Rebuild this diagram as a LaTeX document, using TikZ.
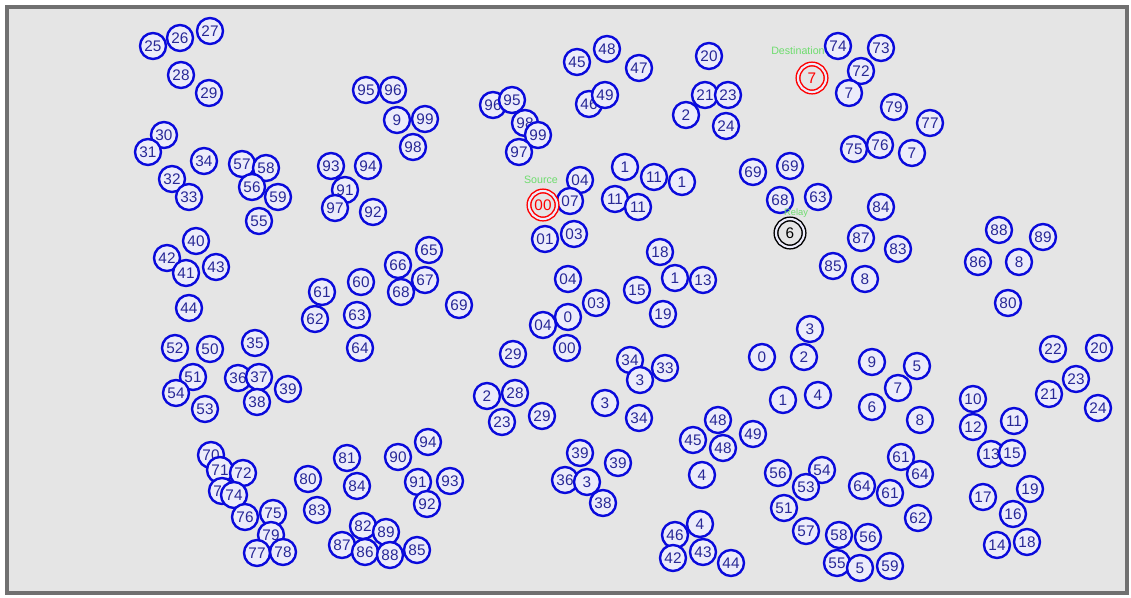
\documentclass[tikz,border=0pt]{standalone}
\usepackage{fontspec}
\setmainfont{Liberation Sans}
\definecolor{bg}{RGB}{229,229,229}
\definecolor{frame}{RGB}{112,112,112}
\definecolor{ndblue}{RGB}{10,10,220}
\definecolor{ndtext}{RGB}{40,40,150}
\definecolor{ndfill}{RGB}{236,236,250}
\definecolor{grn}{RGB}{110,220,110}
\begin{document}
\begin{tikzpicture}[x=0.75pt,y=-0.75pt,
  nd/.style={circle,draw=ndblue,line width=1.8pt,fill=ndfill,minimum size=19.5pt,inner sep=0pt,text=ndtext,font=\fontsize{11.5}{11.5}\selectfont},
  special/.style={circle,line width=1.1pt,double distance=1.6pt,minimum size=21pt,inner sep=0pt,font=\fontsize{11.5}{11.5}\selectfont},
  grnlabel/.style={text=grn,font=\fontsize{8}{8}\selectfont,inner sep=0pt}]
\useasboundingbox (0,0) rectangle (1131,597);
\fill[white] (0,0) rectangle (1131,597);
\fill[bg] (7,7) rectangle (1127,593);
\draw[frame,line width=3.5pt] (7,7) rectangle (1127,593);
\foreach \x/\y/\l [count=\i] in {
153/46/25, 180/38/26, 210/31/27, 181/75/28, 209/93/29,
164/135/30, 148/152/31, 204/161/34, 172/179/32, 189/197/33,
242/164/57, 266/168/58, 252/187/56, 278/197/59, 259/221/55,
196/241/40, 167/258/42, 186/273/41, 216/267/43, 189/308/44,
175/348/52, 210/349/50, 255/343/35, 193/377/51, 176/393/54, 205/409/53,
238/378/36, 259/377/37, 257/402/38, 288/389/39,
211/455/70, 220/470/71, 243/473/72, 222/491/73, 234/495/74, 245/517/76, 273/513/75, 271/535/79, 257/553/77, 283/552/78,
308/479/80, 347/458/81, 357/486/84, 317/510/83, 398/457/90, 428/442/94, 418/482/91, 450/481/93, 427/504/92,
363/526/82, 386/532/89, 342/545/87, 365/552/86, 390/555/88, 417/550/85,
366/90/95, 393/90/96, 397/120/9, 425/119/99, 413/147/98,
331/166/93, 368/166/94, 345/190/91, 335/208/97, 373/212/92,
429/250/65, 398/265/66, 425/280/67, 401/292/68, 361/282/60, 322/292/61, 315/319/62, 357/315/63, 360/348/64, 459/305/69,
493/105/96, 512/100/95, 525/123/98, 538/135/99, 519/152/97,
577/62/45, 607/49/48, 639/68/47, 589/104/46, 605/95/49,
580/180/04, 570/201/07, 545/239/01, 574/234/03, 568/279/04, 596/303/03, 568/317/0, 543/325/04, 567/348/00,
625/167/1, 654/177/11, 682/182/1, 615/199/11, 638/207/11,
660/252/18, 675/278/1, 703/280/13, 637/290/15, 663/314/19,
513/354/29, 487/396/2, 515/393/28, 502/422/23, 542/416/29,
630/360/34, 665/368/33, 640/380/3, 605/403/3, 639/418/34,
580/453/39, 565/480/36, 587/482/3, 618/463/39, 603/503/38,
709/56/20, 705/95/21, 728/95/23, 686/115/2, 726/126/24,
753/172/69, 790/166/69, 780/200/68, 818/197/63,
838/46/74, 881/48/73, 861/71/72, 849/93/7, 894/107/79, 930/123/77, 854/149/75, 880/145/76, 912/153/7,
881/207/84, 861/238/87, 898/249/83, 833/266/85, 865/279/8,
999/230/88, 1043/237/89, 978/262/86, 1019/262/8, 1008/303/80,
810/329/3, 804/357/2, 762/357/0, 783/400/1, 818/395/4,
872/362/9, 917/366/5, 898/388/7, 872/407/6, 920/420/8,
1053/349/22, 1099/348/20, 1076/379/23, 1049/394/21, 1098/408/24,
973/399/10, 1014/421/11, 973/427/12, 991/454/13, 1012/453/15, 983/497/17, 1030/489/19, 1013/514/16, 997/545/14, 1027/542/18,
718/420/48, 693/440/45, 723/448/48, 753/434/49, 702/475/4,
700/524/4, 675/535/46, 673/558/42, 703/552/43, 731/563/44,
778/473/56, 822/470/54, 806/487/53, 784/508/51, 806/531/57, 839/535/58, 837/563/55, 868/537/56, 860/568/5, 890/566/59,
901/457/61, 920/474/64, 862/486/64, 890/493/61, 918/518/62}
  \node[nd] (n\i) at (\x,\y) {\l};
\node[special,draw=red,double=ndfill,text=red] (src) at (543,205) {00};
\node[grnlabel] (srclbl) at (541,180) {Source};
\node[special,draw=red,double=ndfill,text=red] (dst) at (812,78) {7};
\node[grnlabel,anchor=west] (dstlbl) at (771,51) {Destination};
\node[special,draw=black,double=ndfill,text=black] (cur) at (790,233) {6};
\node[grnlabel,font=\fontsize{7}{7}\selectfont] (curlbl) at (796,213) {Relay};
\end{tikzpicture}
\end{document}
